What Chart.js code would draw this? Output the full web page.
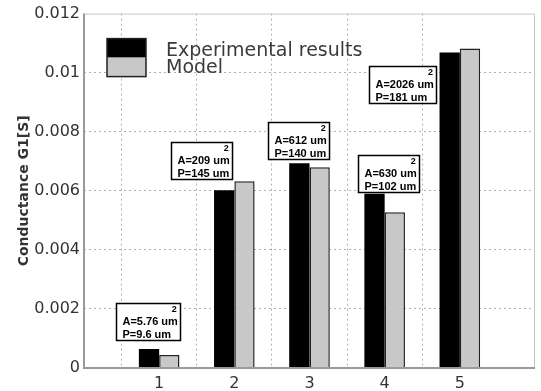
<!DOCTYPE html>
<html>
<head>
<meta charset="utf-8">
<script src="https://cdn.jsdelivr.net/npm/chart.js@4"></script>
<style>
  html, body { margin: 0; padding: 0; background: #fff; }
  #wrap { width: 541px; height: 391px; }
</style>
</head>
<body>
<div id="wrap"><canvas id="canvas-cond" width="541" height="391"></canvas></div>
<script>
// data
const categories = ['1', '2', '3', '4', '5'];
const experimental = [0.00064, 0.00602, 0.00693, 0.0059, 0.01068];
const model = [0.00044, 0.00632, 0.0068, 0.00527, 0.01082];
const yTicks = [0, 0.002, 0.004, 0.006, 0.008, 0.01, 0.012];
const yTickLabels = ['0', '0.002', '0.004', '0.006', '0.008', '0.01', '0.012'];
const areaLabels = ['A=5.76 um', 'A=209 um', 'A=612 um', 'A=630 um', 'A=2026 um'];
const perimLabels = ['P=9.6 um', 'P=145 um', 'P=140 um', 'P=102 um', 'P=181 um'];

// where the label boxes sit (x in category units, y = value at box top)
const boxSpots = [[0.852, 0.0022], [1.559, 0.00764], [2.86, 0.00832], [4.05, 0.0072], [4.234, 0.01021]];

// matlab-like xlim [0 6]: pad with empty slots at both ends
const labels = [''].concat(categories, ['']);
const pad = arr => [null].concat(arr, [null]);

const GRID = '#b0b0b0';
const AXIS = '#9a9a9a';
const BOXFONT = 'bold 11px "Liberation Sans", Arial, sans-serif';

// frame, label boxes and the legend block
const extras = {
  id: 'extras',
  afterDatasetsDraw(chart) {
    const {ctx, chartArea: a, scales: {x, y}} = chart;
    ctx.save();

    // frame
    ctx.strokeStyle = '#c4c4c4';
    ctx.lineWidth = 1;
    ctx.beginPath();
    ctx.moveTo(a.left, a.top + 0.5);
    ctx.lineTo(a.right - 0.5, a.top + 0.5);
    ctx.lineTo(a.right - 0.5, a.bottom);
    ctx.stroke();
    ctx.strokeStyle = AXIS;
    ctx.lineWidth = 2;
    ctx.beginPath();
    ctx.moveTo(a.left, a.top);
    ctx.lineTo(a.left, a.bottom);
    ctx.lineTo(a.right, a.bottom);
    ctx.stroke();

    // annotation boxes
    ctx.textBaseline = 'middle';
    boxSpots.forEach((s, i) => {
      ctx.font = BOXFONT;
      const w1 = ctx.measureText(areaLabels[i]).width;
      const w2 = ctx.measureText(perimLabels[i]).width;
      const w = Math.round(Math.max(w1, w2) + 9);
      const h = 37;
      const cx = x.getPixelForValue(s[0]);
      const top = Math.round(y.getPixelForValue(s[1])) + 0.5;
      const left = Math.round(cx - w / 2) + 0.5;
      ctx.fillStyle = '#fff';
      ctx.fillRect(left, top, w, h);
      ctx.strokeStyle = '#000';
      ctx.lineWidth = 1.5;
      ctx.strokeRect(left, top, w, h);
      ctx.fillStyle = '#000';
      ctx.textAlign = 'left';
      ctx.fillText(areaLabels[i], left + 6, top + 18);
      ctx.fillText(perimLabels[i], left + 6, top + 31);
      ctx.font = 'bold 9px "Liberation Sans", Arial, sans-serif';
      ctx.fillText('2', left + 6 + w1 - 6, top + 6);
    });

    // legend
    const lx = a.left + 23, ly = a.top + 25;
    ctx.fillStyle = '#000';
    ctx.fillRect(lx, ly, 39, 19);
    ctx.fillStyle = '#c8c8c8';
    ctx.fillRect(lx, ly + 19, 39, 19);
    ctx.strokeStyle = '#222';
    ctx.lineWidth = 1.5;
    ctx.strokeRect(lx, ly, 39, 38);
    ctx.fillStyle = '#3a3a3a';
    ctx.font = '19px "DejaVu Sans", sans-serif';
    ctx.textAlign = 'left';
    ctx.fillText('Experimental results', lx + 59, ly + 12);
    ctx.fillText('Model', lx + 59, ly + 29);

    ctx.restore();
  }
};

const cond = () => {
  const ctx = document.getElementById('canvas-cond').getContext('2d');
  const myChart = new Chart(ctx, {
    type: 'bar',
    data: {
      labels: labels,
      datasets: [{
        label: 'Experimental results',
        data: pad(experimental),
        backgroundColor: '#000',
        borderColor: '#222',
        borderWidth: 0,
        barPercentage: 1,
        categoryPercentage: 0.54
      }, {
        label: 'Model',
        data: pad(model),
        backgroundColor: '#c8c8c8',
        borderColor: '#222',
        borderWidth: 1.5,
        barPercentage: 1,
        categoryPercentage: 0.54
      }]
    },
    plugins: [extras],
    options: {
      responsive: false,
      animation: false,
      layout: { padding: { left: 0, top: 13, right: 3, bottom: 0 } },
      plugins: {
        legend: { display: false },
        tooltip: { enabled: false }
      },
      scales: {
        x: {
          offset: false,
          border: { display: false, dash: [2, 3] },
          grid: {
            drawTicks: false,
            color: c => (c.index === 0 || c.index === labels.length - 1) ? 'rgba(0,0,0,0)' : GRID
          },
          ticks: {
            padding: 6,
            color: '#333',
            autoSkip: false,
            maxRotation: 0,
            font: { family: '"DejaVu Sans", sans-serif', size: 16 }
          },
          afterFit: s => { s.height = 23; }
        },
        y: {
          min: 0,
          max: 0.012,
          border: { display: false, dash: [2, 3] },
          grid: {
            drawTicks: false,
            color: c => (c.tick && (c.tick.value === 0 || c.tick.value === 0.012)) ? 'rgba(0,0,0,0)' : GRID
          },
          afterBuildTicks: s => { s.ticks = yTicks.map(v => ({ value: v })); },
          ticks: {
            padding: 4,
            color: '#333',
            callback: (v, i) => yTickLabels[i],
            font: { family: '"DejaVu Sans", sans-serif', size: 16 }
          },
          title: {
            display: true,
            text: 'Conductance G1[S]',
            color: '#333',
            padding: { top: 16, bottom: 0 },
            font: { family: '"DejaVu Sans", sans-serif', size: 14, weight: 'bold' }
          },
          afterFit: s => { s.width = 84; }
        }
      }
    }
  });
};

cond();
</script>
</body>
</html>
